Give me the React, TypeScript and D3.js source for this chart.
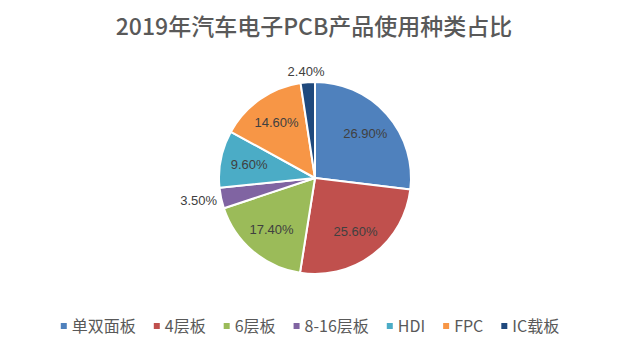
import React, { useEffect, useRef } from "react";
import * as d3 from "d3";

const title = "2019年汽车电子PCB产品使用种类占比";
const categories = ["单双面板", "4层板", "6层板", "8-16层板", "HDI", "FPC", "IC载板"];
const values = [26.9, 25.6, 17.4, 3.5, 9.6, 14.6, 2.4];
const colors = ["#4F81BD", "#C0504D", "#9BBB59", "#8064A2", "#4BACC6", "#F79646", "#1F497D"];

const W = 640;
const H = 354;

export default function App() {
  const ref = useRef<SVGSVGElement>(null);
  useEffect(() => {
    const svg = d3.select(ref.current!);
    svg.selectAll("*").remove();
    svg.append("rect").attr("width", W).attr("height", H).attr("fill", "#fff");

    svg.append("text")
      .attr("x", 314).attr("y", 35)
      .attr("text-anchor", "middle")
      .attr("font-family", "'Noto Sans CJK SC', 'Noto Sans', sans-serif")
      .attr("font-size", 23)
      .attr("font-weight", 500)
      .attr("fill", "#595959")
      .text(title);

    const cx = 315, cy = 178, r = 96;
    const data = values.map((v, i) => ({ v, i }));
    const pie = d3.pie<{ v: number; i: number }>().value(d => d.v).sort(null);
    const arcs = pie(data);
    const arc = d3.arc<d3.PieArcDatum<{ v: number; i: number }>>().innerRadius(0).outerRadius(r);
    const g = svg.append("g").attr("transform", `translate(${cx},${cy})`);
    g.selectAll("path").data(arcs).join("path")
      .attr("d", arc as any)
      .attr("fill", d => colors[d.data.i])
      .attr("stroke", "#fff")
      .attr("stroke-width", 2)
      .attr("stroke-linejoin", "round");

    const fmt = (v: number) => v.toFixed(2) + "%";
    arcs.forEach(a => {
      const mid = (a.startAngle + a.endAngle) / 2;
      const s = Math.sin(mid), c = -Math.cos(mid);
      let x: number, y: number;
      if (a.data.v < 5) {
        const rr = r + 5;
        x = s * rr + s * 18;
        y = c * rr + c * 6;
      } else {
        const rr = r * 0.7;
        x = s * rr;
        y = c * rr;
      }
      g.append("text")
        .attr("x", x).attr("y", y)
        .attr("dy", "0.35em")
        .attr("text-anchor", "middle")
        .attr("font-family", "'Liberation Sans', Arial, sans-serif")
        .attr("font-size", 13)
        .attr("fill", "#404040")
        .text(fmt(a.data.v));
    });

    // legend
    const lg = svg.append("g");
    const fontSize = 16;
    const items: { w: number }[] = [];
    const tmp = lg.append("g");
    categories.forEach(cat => {
      const t = tmp.append("text")
        .attr("font-family", "'Noto Sans CJK SC', sans-serif")
        .attr("font-size", fontSize)
        .text(cat);
      items.push({ w: (t.node() as SVGTextElement).getComputedTextLength() });
    });
    tmp.remove();
    const marker = 6, gap1 = 5, gap2 = 18;
    const total = items.reduce((s, it) => s + marker + gap1 + it.w, 0) + gap2 * (items.length - 1);
    let x0 = 310 - total / 2;
    const ly = 326;
    categories.forEach((cat, i) => {
      lg.append("rect")
        .attr("x", x0).attr("y", ly - marker / 2)
        .attr("width", marker).attr("height", marker)
        .attr("fill", colors[i]);
      lg.append("text")
        .attr("x", x0 + marker + gap1).attr("y", ly)
        .attr("dy", "0.35em")
        .attr("font-family", "'Noto Sans CJK SC', sans-serif")
        .attr("font-size", fontSize)
        .attr("fill", "#595959")
        .text(cat);
      x0 += marker + gap1 + items[i].w + gap2;
    });
  }, []);
  return (
    <svg ref={ref} width={W} height={H} style={{ position: "absolute", left: 0, top: 0 }} />
  );
}
